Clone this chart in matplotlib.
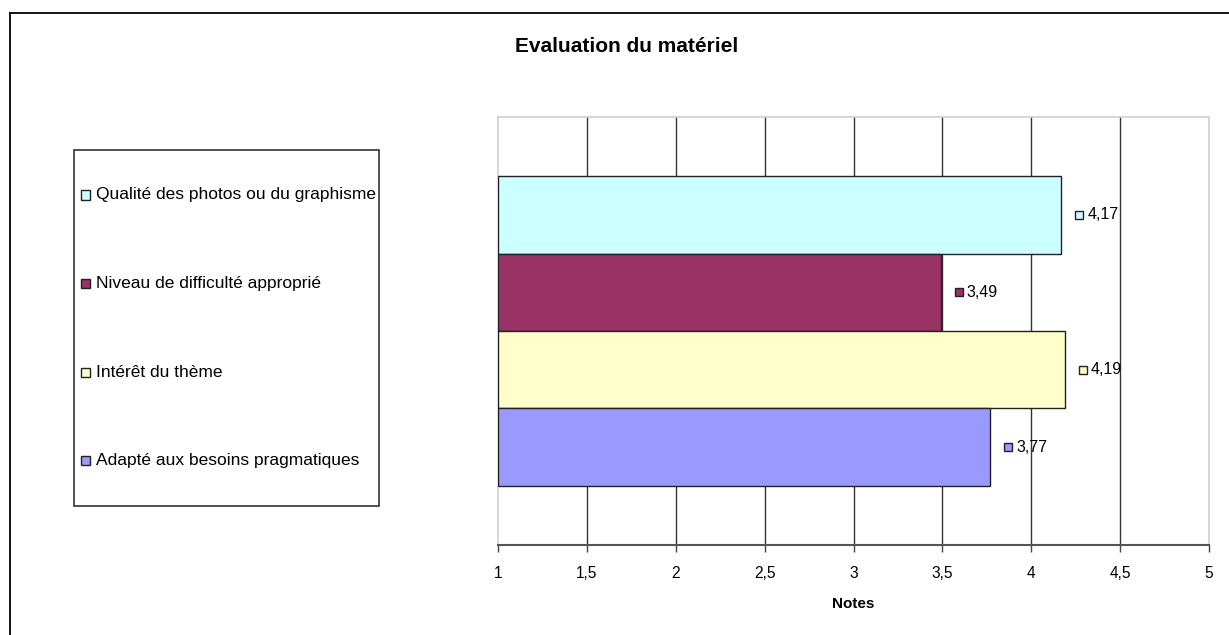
import matplotlib
matplotlib.use("Agg")
import matplotlib.pyplot as plt
from matplotlib.patches import Rectangle
from matplotlib.lines import Line2D
from matplotlib.transforms import ScaledTranslation

plt.rcParams['font.family'] = ['Liberation Sans', 'DejaVu Sans']

# Data: series listed top to bottom
series = ["Qualité des photos ou du graphisme",
          "Niveau de difficulté approprié",
          "Intérêt du thème",
          "Adapté aux besoins pragmatiques"]
scores = [4.17, 3.49, 4.19, 3.77]
colors = ["#CCFFFF", "#993366", "#FFFFCC", "#9999FF"]
xticks = [1, 1.5, 2, 2.5, 3, 3.5, 4, 4.5, 5]
xtick_labels = ["1", "1,5", "2", "2,5", "3", "3,5", "4", "4,5", "5"]
title = "Evaluation du matériel"
xlabel = "Notes"

W, H = 1229, 635
DPI = 100
fig = plt.figure(figsize=(W / DPI, H / DPI), dpi=DPI)
fig.patch.set_facecolor("white")

def fx(px):
    return px / W

def fy(py):
    return 1 - py / H

# Outer chart frame (top and left edges)
fig.add_artist(Line2D([fx(9.5), fx(9.5)], [fy(12.5), 0], color="black", lw=1.3))
fig.add_artist(Line2D([fx(9.5), 1], [fy(12.5), fy(12.5)], color="black", lw=1.3))

# Plot area
left, right, top, bottom = 498, 1209, 117, 545
ax = fig.add_axes([fx(left), fy(bottom), fx(right - left), (bottom - top) / H])
ax.set_facecolor("white")

n = len(series)
bar_h = 0.181
centers = [0.5 + (i - (n - 1) / 2) * bar_h for i in range(n)]
bars = ax.barh(centers, [s - 1 for s in scores], left=1, height=bar_h,
               color=colors, edgecolor="#222222", linewidth=1.0, zorder=3)

ax.set_xlim(1, 5)
ax.set_ylim(1, 0)
ax.set_xticks(xticks)
ax.set_xticklabels(xtick_labels, fontsize=11.2)
ax.set_yticks([])
ax.tick_params(axis="x", direction="out", length=5, width=1, color="#444444", pad=10)
for x in xticks[1:-1]:
    ax.axvline(x, color="#333333", lw=1.0, zorder=1)

for side in ("left", "top", "right"):
    ax.spines[side].set_color("#d0d0d0")
    ax.spines[side].set_linewidth(1.2)
ax.spines["bottom"].set_color("#555555")
ax.spines["bottom"].set_linewidth(1.5)

ax.set_xlabel(xlabel, fontsize=11, fontweight="bold", labelpad=12)

# Value labels: small colour key followed by the score, right of each bar end
key_shift = ax.transData + ScaledTranslation(18 / DPI, 0, fig.dpi_scale_trans)
for c, s, col in zip(centers, scores, colors):
    ax.plot([s], [c], marker="s", markersize=6.0, markerfacecolor=col,
            markeredgecolor="#222222", markeredgewidth=1.0, linestyle="none",
            transform=key_shift, clip_on=False, zorder=4)
    ax.annotate(f"{s:.2f}".replace(".", ","), xy=(s, c),
                xytext=(26 * 72 / DPI, 0), textcoords="offset points",
                fontsize=11.5, va="center", ha="left", zorder=4,
                annotation_clip=False)

# Title
fig.text(fx(627), fy(47), title, fontsize=15, fontweight="bold", ha="center", va="center")

# Legend box
lx0, lx1, ly0, ly1 = 74, 379, 150, 506
fig.add_artist(Rectangle((fx(lx0), fy(ly1)), fx(lx1 - lx0), (ly1 - ly0) / H,
                         facecolor="white", edgecolor="#333333", lw=1.2))
entry_y = [195, 283.5, 372, 460.5]
for name, col, yy in zip(series, colors, entry_y):
    fig.add_artist(Rectangle((fx(80.5), fy(yy + 4.5)), fx(9), 9 / H,
                             facecolor=col, edgecolor="#222222", lw=1.0))
    fig.text(fx(96.5), fy(yy), name, fontsize=12.5, ha="left", va="center")

fig.savefig("out.png", dpi=DPI)
